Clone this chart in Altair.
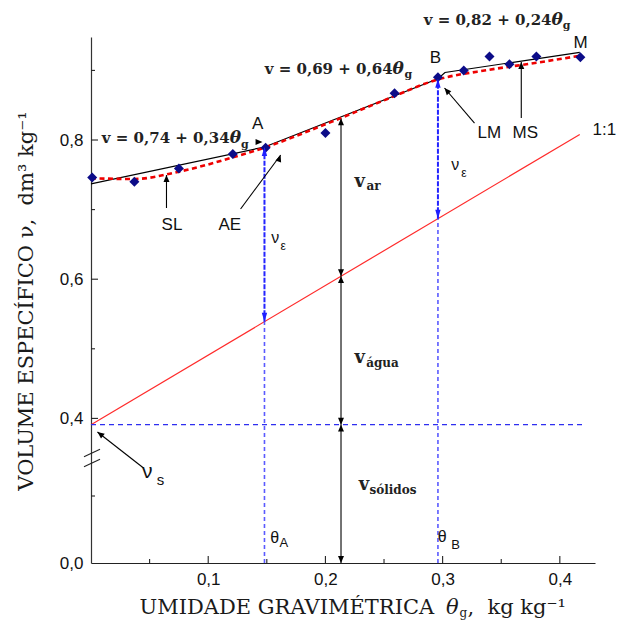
import altair as alt
import pandas as pd

# ---------------- data ----------------
theta_pts = [0.001, 0.037, 0.075, 0.121, 0.149, 0.200, 0.259, 0.296, 0.318, 0.340, 0.357, 0.380, 0.4175]
v_pts = [0.746, 0.740, 0.759, 0.780, 0.789, 0.810, 0.867, 0.890, 0.900, 0.920, 0.909, 0.920, 0.919]

fit_theta = [0.0, 0.148, 0.296, 0.302, 0.417]
fit_v = [0.737, 0.790, 0.888, 0.897, 0.926]

smooth_theta = [0.0, 0.037, 0.075, 0.121, 0.148, 0.200, 0.250, 0.296, 0.340, 0.380, 0.417]
smooth_v = [0.745, 0.744, 0.7545, 0.775, 0.789, 0.8226, 0.857, 0.887, 0.901, 0.911, 0.921]

line11_theta = [0.0, 0.417]
line11_v = [0.391, 0.808]

vs = 0.391
theta_A, v_A, v_A11 = 0.148, 0.790, 0.539
theta_B, v_B, v_B11 = 0.296, 0.888, 0.687
theta_C, v_C_top, v_C11 = 0.2133, 0.831, 0.6043
vs_line_end = 0.419

x_major = [0.1, 0.2, 0.3, 0.4]
x_minor = [0.05, 0.15, 0.25, 0.35]
y_labels = [0.0, 0.4, 0.6, 0.8]
y_major = [0.4, 0.6, 0.8]
y_minor = [0.1, 0.5, 0.7, 0.9]

W, H = 504, 526
Y_DOMAIN = [0.0, 0.15, 0.35, 0.948]   # broken axis (piecewise scale)
Y_RANGE = [526, 425.5, 416.2, 0]

NB = "\u00a0"

LBL = "replace(format(datum.value, '.1f'), '.', ',')"
xs = alt.Scale(domain=[0, 0.43], nice=False, zero=False)
ys = alt.Scale(domain=Y_DOMAIN, range=Y_RANGE, nice=False, zero=False)
xaxis = alt.Axis(values=x_major, labelExpr=LBL, ticks=False, tickSize=0, grid=False,
                 domainColor="#222", domainWidth=1.2, labelFont="Liberation Sans",
                 labelFontSize=17, labelColor="#111", labelPadding=8, title="")
yaxis = alt.Axis(values=y_labels, labelExpr=LBL, ticks=False, tickSize=0, grid=False,
                 domainColor="#333", domainWidth=1.2, labelFont="Liberation Sans",
                 labelFontSize=17, labelColor="#111", labelPadding=8, title="")


def X(f):
    return alt.X(f, type="quantitative", scale=xs, axis=xaxis)


def Y(f):
    return alt.Y(f, type="quantitative", scale=ys, axis=yaxis)


def df(**cols):
    return pd.DataFrame(cols)


layers = []

# 1:1 line
layers.append(alt.Chart(df(t=line11_theta, v=line11_v)).mark_line(color="#ff2b2b", strokeWidth=1.2)
              .encode(x=X("t"), y=Y("v")))

# horizontal dashed at vs
layers.append(alt.Chart(df(t=[0.0], t2=[vs_line_end], v=[vs])).mark_rule(
    color="#2e2ef0", strokeWidth=1.3, strokeDash=[5, 4]).encode(x=X("t"), x2="t2", y=Y("v")))

# vertical dashed at theta_A / theta_B
layers.append(alt.Chart(df(t=[theta_A, theta_B], v=[0.0, 0.0], v2=[v_A11, v_B11])).mark_rule(
    color="#5a5aff", strokeWidth=1.6, strokeDash=[4, 3]).encode(x=X("t"), y=Y("v"), y2="v2"))

# blue arrows (nu_epsilon)
layers.append(alt.Chart(df(t=[theta_A, theta_B], v=[v_A11, v_B11], v2=[v_A, v_B])).mark_rule(
    color="#2424ff", strokeWidth=2, strokeDash=[5, 1.5]).encode(x=X("t"), y=Y("v"), y2="v2"))

# black vertical arrows (v_ar, v_agua, v_solidos)
layers.append(alt.Chart(df(t=[theta_C] * 3, v=[v_C_top, v_C11, vs], v2=[v_C11, vs, 0.0])).mark_rule(
    color="#000", strokeWidth=1.1).encode(x=X("t"), y=Y("v"), y2="v2"))

# segmented fit (black) and smooth fit (red dashed)
layers.append(alt.Chart(df(t=fit_theta, v=fit_v)).mark_line(color="#000", strokeWidth=1.2)
              .encode(x=X("t"), y=Y("v")))
layers.append(alt.Chart(df(t=smooth_theta, v=smooth_v)).mark_line(
    color="#ee0000", strokeWidth=2.6, strokeDash=[5, 3.5], interpolate="monotone")
    .encode(x=X("t"), y=Y("v")))

# data points
layers.append(alt.Chart(df(t=theta_pts, v=v_pts)).mark_point(
    shape="diamond", filled=True, size=100, color="#0c0c88", opacity=1)
    .encode(x=X("t"), y=Y("v")))

# annotation arrows
arr = df(t=[0.0644, 0.1276, 0.3272, 0.3671, 0.0448],
         v=[0.7023, 0.7009, 0.8244, 0.8316, 0.1418],
         t2=[0.0644, 0.1618, 0.3016, 0.3671, 0.0055],
         v2=[0.7497, 0.7784, 0.8747, 0.9121, 0.3805])
layers.append(alt.Chart(arr).mark_rule(color="#000", strokeWidth=1.1)
              .encode(x=X("t"), y=Y("v"), x2="t2", y2="v2"))

HEAD = "M0,0L-1,2.3L1,2.3Z"
heads = df(t=[theta_C, theta_C, theta_C, theta_C, theta_C, theta_C,
              0.0644, 0.1618, 0.3016, 0.3671, 0.0055, 0.1463],
           v=[v_C_top, v_C11, v_C11, vs, vs, 0.0,
              0.7497, 0.7784, 0.8747, 0.9121, 0.3805, 0.7971],
           a=[0, 180, 0, 180, 0, 180, 0, 20, 319, 0, 308, 90])
layers.append(alt.Chart(heads).mark_point(shape=HEAD, filled=True, size=36, color="#000", opacity=1,
                                          strokeWidth=0)
              .encode(x=X("t"), y=Y("v"), angle=alt.Angle("a:Q", scale=None)))

BHEAD = "M0,0L-0.9,3L0.9,3Z"
bheads = df(t=[theta_A, theta_A, theta_B, theta_B], v=[v_A, v_A11, v_B, v_B11], a=[0, 180, 0, 180])
layers.append(alt.Chart(bheads).mark_point(shape=BHEAD, filled=True, size=36, color="#1f1fff",
                                           opacity=1, strokeWidth=0)
              .encode(x=X("t"), y=Y("v"), angle=alt.Angle("a:Q", scale=None)))

# inward ticks
layers.append(alt.Chart(df(v=y_major)).mark_rule(color="#222", strokeWidth=1.1)
              .encode(y=Y("v"), x=alt.value(0), x2=alt.value(7)))
layers.append(alt.Chart(df(v=y_minor)).mark_rule(color="#222", strokeWidth=1.1)
              .encode(y=Y("v"), x=alt.value(0), x2=alt.value(4)))
layers.append(alt.Chart(df(t=x_major)).mark_rule(color="#222", strokeWidth=1.1)
              .encode(x=X("t"), y=alt.value(H), y2=alt.value(H - 7)))
layers.append(alt.Chart(df(t=x_minor)).mark_rule(color="#222", strokeWidth=1.1)
              .encode(x=X("t"), y=alt.value(H), y2=alt.value(H - 4)))

# axis break marks
for yy in (419.7, 429.7):
    layers.append(alt.Chart(df(k=[0])).mark_rule(color="#222", strokeWidth=1.1)
                  .encode(x=alt.value(-7), x2=alt.value(9), y=alt.value(yy), y2=alt.value(yy - 7.5)))


def texts(t, v, s, align="left", font="Liberation Sans", size=17, weight="normal",
          style="normal", color="#111"):
    return alt.Chart(df(t=t, v=v, s=s)).mark_text(
        align=align, baseline="alphabetic", font=font, fontSize=size, fontWeight=weight,
        fontStyle=style, color=color).encode(x=X("t"), y=Y("v"), text="s:N")


# point labels
layers.append(texts([0.1421, 0.2939, 0.4177], [0.8151, 0.9102, 0.9322], ["A", "B", "M"], align="center"))
layers.append(texts([0.3298, 0.3596, 0.4279, 0.0602, 0.1088],
                    [0.8029, 0.8029, 0.8072, 0.6700, 0.6700],
                    ["LM", "MS", "1:1", "SL", "AE"]))

# greek labels
layers.append(texts([0.1538, 0.3073, 0.1529, 0.2959], [0.6519, 0.7569, 0.0299, 0.0318],
                    ["ν", "ν", "θ", "θ"], size=16))
layers.append(texts([0.1617, 0.3159], [0.6420, 0.7464], ["ε", "ε"], size=12))
layers.append(texts([0.1608, 0.3073], [0.0234, 0.0205], ["A", "B"], size=13))
layers.append(texts([0.0435], [0.1264], ["ν"], size=21))
layers.append(texts([0.0561], [0.1164], ["s"], size=15))

# volume component labels
layers.append(texts([0.2248, 0.2248, 0.2285], [0.7320, 0.4791, 0.1090], ["v", "v", "v"],
                    font="DejaVu Serif", size=18, weight="bold", color="#222"))
layers.append(texts([0.2351, 0.2348, 0.2376], [0.7282, 0.4745, 0.1030], ["ar", "água", "sólidos"],
                    font="DejaVu Serif", size=12, weight="bold", color="#222"))

# equations
eq_t = [0.1183, 0.2573, 0.3929]
eq_v = [0.7957, 0.8955, 0.9652]
layers.append(texts(eq_t, eq_v, ["v = 0,74 + 0,34", "v = 0,69 + 0,64", "v = 0,82 + 0,24"],
                    align="right", font="DejaVu Serif", size=15, weight="bold", color="#222"))
layers.append(texts(eq_t, eq_v, ["θ", "θ", "θ"], font="DejaVu Serif", size=17, weight="bold",
                    style="italic", color="#222"))
layers.append(texts([0.1280, 0.2675, 0.4025], [0.7885, 0.8891, 0.9595], ["g", "g", "g"],
                    font="DejaVu Serif", size=11, weight="bold", color="#222"))

# axis titles as text
ttl = dict(font="DejaVu Serif", fontSize=21, color="#1a1a1a", baseline="alphabetic")
k = df(k=[0])
layers.append(alt.Chart(k).mark_text(align="left", text="UMIDADE GRAVIMÉTRICA", **ttl)
              .encode(x=alt.value(48.5), y=alt.value(577)))
layers.append(alt.Chart(k).mark_text(align="left", text="θ", fontStyle="italic", **ttl)
              .encode(x=alt.value(355), y=alt.value(577)))
layers.append(alt.Chart(k).mark_text(align="left", text="g", font="DejaVu Serif", fontSize=12,
                                     color="#1a1a1a", baseline="alphabetic")
              .encode(x=alt.value(368.5), y=alt.value(580)))
layers.append(alt.Chart(k).mark_text(align="left", text="," + NB + NB + "kg kg⁻¹", **ttl)
              .encode(x=alt.value(376.5), y=alt.value(577)))
layers.append(alt.Chart(k).mark_text(align="center", angle=270,
                                     text="VOLUME ESPECÍFICO ν," + NB + NB + "dm³ kg⁻¹", **ttl)
              .encode(x=alt.value(-58.5), y=alt.value(264)))

chart = alt.layer(*layers).properties(
    width=W, height=H,
    padding={"left": 83, "top": 29, "right": 21, "bottom": 59},
    autosize=alt.AutoSizeParams(type="none"),
    background="white",
).configure_view(strokeWidth=0)

chart.save("out.html", embed_options={"renderer": "svg", "actions": False})
